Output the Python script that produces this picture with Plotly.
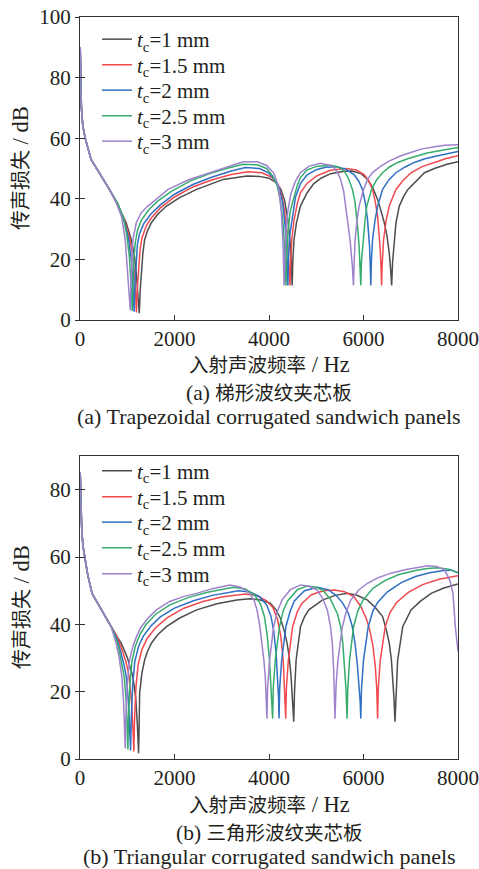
import plotly.graph_objects as go

# ---------------- labels ----------------
legend_names = ["<i>t</i><sub>c</sub>=1 mm", "<i>t</i><sub>c</sub>=1.5 mm", "<i>t</i><sub>c</sub>=2 mm",
                "<i>t</i><sub>c</sub>=2.5 mm", "<i>t</i><sub>c</sub>=3 mm"]
line_colors = ["#4d4d4d", "#f04a4f", "#2f6fc4", "#36ac6c", "#9e82cc"]
x_title_cn, x_title_en = "入射声波频率", " / Hz"
y_title_cn, y_title_en = "传声损失", " / dB"
caption_a_tag, caption_a_cn = "(a) ", "梯形波纹夹芯板"
caption_a_en = "(a) Trapezoidal corrugated sandwich panels"
caption_b_tag, caption_b_cn = "(b) ", "三角形波纹夹芯板"
caption_b_en = "(b) Triangular corrugated sandwich panels"
x_ticks = [0, 2000, 4000, 6000, 8000]
y_ticks_a = [0, 20, 40, 60, 80, 100]
y_ticks_b = [0, 20, 40, 60, 80]

# ---------------- (a) trapezoidal ----------------
trap_t1_x = [5, 15, 30, 60, 110, 234, 411, 623, 810, 978, 1085, 1150, 1191, 1230, 1255, 1275, 1297, 1330, 1368, 1430,
             1510, 1650, 1830, 2100, 2468, 3034, 3532, 3800, 4000, 4150, 4250, 4330, 4400, 4450, 4475, 4490, 4505, 4530,
             4580, 4665, 4807, 4949, 5100, 5304, 5550, 5750, 5950, 6085, 6200, 6298, 6380, 6440, 6500, 6545, 6575, 6596,
             6615, 6651, 6687, 6757, 6850, 6936, 7100, 7290, 7500, 7750, 8000]
trap_t1_y = [90, 80, 70, 64, 60, 53, 48.6, 43.1, 37.6, 32.1, 26.5, 21.5, 15.5, 8, 2.2, 10, 15.5, 22, 26.5, 29.5,
             32.1, 35, 37.6, 40.3, 43.1, 46.4, 47.5, 47.4, 46.8, 45.3, 43.2, 39.5, 33, 25, 18, 11.4, 20, 26.5,
             32, 37.6, 42, 45, 46.8, 48.3, 49, 49.2, 48.3, 46.4, 43.5, 39.8, 35.5, 32.1, 27.5, 22.1, 16.5, 11.4,
             19, 26.5, 32.1, 37.6, 40.8, 43, 45.5, 48.6, 50, 51.3, 52.2]

trap_t15_x = [5, 15, 30, 60, 110, 234, 411, 623, 800, 950, 1050, 1120, 1160, 1180, 1195, 1212, 1235, 1270, 1310, 1400,
              1500, 1700, 2000, 2400, 2800, 3200, 3550, 3850, 4050, 4180, 4260, 4330, 4385, 4420, 4445, 4460, 4485, 4530,
              4600, 4665, 4800, 5000, 5300, 5623, 5850, 6014, 6110, 6192, 6250, 6298, 6330, 6355, 6372, 6383, 6395, 6425,
              6480, 6545, 6687, 6850, 7006, 7250, 7502, 7750, 8000]
trap_t15_y = [90, 80, 70, 64, 60, 53, 48.6, 43.1, 38, 32.5, 27, 21, 14, 8, 2.5, 10, 16, 23, 27, 31,
              33.5, 37, 40.6, 44, 46.3, 48, 48.9, 48.6, 47.2, 45, 42, 36, 28, 20, 11.4, 20, 27, 33,
              38.5, 42, 45, 47.5, 49.4, 50, 49.5, 48, 46, 43.1, 39, 34.3, 29, 23.2, 17, 11.4, 18, 26.5,
              33, 37.6, 43.1, 46.3, 48.6, 50.7, 52, 53.3, 54.2]

trap_t2_x = [5, 15, 30, 60, 110, 234, 411, 623, 800, 940, 1030, 1085, 1115, 1132, 1145, 1160, 1180, 1215, 1260, 1350,
             1500, 1700, 2000, 2400, 2800, 3200, 3500, 3800, 4000, 4130, 4220, 4290, 4340, 4375, 4390, 4400, 4412, 4440,
             4490, 4560, 4665, 4800, 5000, 5200, 5447, 5620, 5800, 5900, 5978, 6040, 6085, 6110, 6128, 6145, 6155, 6168,
             6192, 6240, 6298, 6404, 6540, 6687, 6880, 7077, 7300, 7574, 7800, 8000]
trap_t2_y = [90, 80, 70, 64, 60, 53, 48.6, 43.1, 38.3, 32.5, 26.5, 20, 13, 7, 2.7, 11, 18, 25, 28.5, 31.8,
             35, 38, 41.5, 44.8, 47.2, 49.2, 50.3, 50, 48.5, 46, 43.5, 38.5, 31, 22, 17, 11.4, 20, 28,
             34, 40.5, 45, 47.8, 49.6, 50.4, 50.6, 49.8, 48, 45.8, 43.1, 38.5, 33.2, 29, 24.3, 17, 11.4, 20,
             26.5, 32.5, 37.6, 43.1, 46.3, 48.6, 50.5, 52, 53.2, 54.2, 55, 55.6]

trap_t25_x = [5, 15, 30, 60, 110, 234, 411, 623, 800, 920, 990, 1045, 1075, 1092, 1104, 1118, 1140, 1170, 1215, 1300,
              1450, 1650, 1950, 2350, 2750, 3100, 3450, 3750, 3950, 4080, 4170, 4240, 4295, 4330, 4350, 4360, 4372, 4400,
              4450, 4530, 4600, 4665, 4800, 5000, 5304, 5450, 5588, 5680, 5765, 5820, 5857, 5885, 5907, 5928, 5943, 5955,
              5992, 6030, 6070, 6170, 6280, 6404, 6550, 6723, 6950, 7148, 7350, 7574, 7800, 8000]
trap_t25_y = [90, 80, 70, 64, 60, 53, 48.6, 43.1, 38.5, 33.5, 28, 21, 14, 8, 3, 12, 20, 25.5, 29.5, 33,
              36.3, 39.3, 42.6, 46, 48.3, 50, 51.4, 51.2, 50, 47.5, 44.5, 39.5, 32, 24, 17, 11.4, 20, 29,
              36, 41, 44.5, 47, 49.5, 50.7, 51.1, 50.6, 49.2, 46.8, 43.1, 39, 34.3, 29, 24.3, 17.5, 11.4, 19,
              26.5, 32.5, 37.6, 43.1, 46.3, 48.6, 50.5, 52, 53.3, 54.2, 55.1, 55.8, 56.4, 56.9]

trap_t3_x = [5, 15, 30, 60, 110, 234, 411, 623, 760, 880, 957, 1013, 1045, 1064, 1080, 1100, 1119, 1191, 1300, 1438,
             1650, 1864, 2300, 2751, 3100, 3450, 3750, 3950, 4100, 4200, 4260, 4295, 4320, 4335, 4360, 4400, 4460, 4550,
             4665, 4850, 5090, 5300, 5374, 5450, 5517, 5580, 5623, 5680, 5715, 5765, 5787, 5805, 5822, 5860, 5907, 6000,
             6085, 6200, 6368, 6550, 6794, 7000, 7219, 7500, 7715, 8000]
trap_t3_y = [90, 80, 70, 64, 60, 53, 48.6, 43.1, 39, 34, 26.5, 15.5, 8, 3.3, 13, 21, 26.5, 32.1, 35.5, 37.6,
             40.5, 43.1, 46.3, 48.6, 50.3, 52.2, 52.2, 51, 48.5, 44.2, 36, 26, 11.4, 22, 30, 36, 41.5, 45.5,
             48.6, 50.8, 51.7, 51, 50.3, 48.6, 46.4, 42.5, 37.6, 31, 26.5, 17.7, 11.4, 20, 26.5, 32.5, 37.6, 43,
             46.4, 48.8, 50.8, 52.5, 54.2, 55.3, 56.4, 57.2, 57.7, 57.8]

# ---------------- (b) triangular ----------------
tri_t1_x = [5, 15, 35, 60, 100, 160, 255, 360, 468, 560, 659, 750, 872, 1000, 1119, 1180, 1215, 1240, 1252, 1262,
            1310, 1368, 1430, 1510, 1650, 1830, 2100, 2468, 2900, 3319, 3600, 3800, 4028, 4150, 4240, 4320, 4382, 4430,
            4467, 4500, 4523, 4540, 4574, 4666, 4750, 4843, 5000, 5128, 5400, 5652, 5850, 6085, 6250, 6404, 6480, 6545,
            6590, 6617, 6645, 6666, 6690, 6723, 6830, 7006, 7200, 7432, 7700, 7928, 8000]
tri_t1_y = [85, 77, 69, 63.5, 60, 55, 49.2, 46.6, 44.3, 41.8, 39.3, 37, 34.4, 30.2, 24.5, 18, 10, 1.7, 10, 19.5,
            25.5, 29.4, 32, 34.4, 37, 39.3, 41.8, 44.3, 46.1, 47.2, 47.6, 47.3, 46.3, 44.3, 41.8, 38.2, 34.4, 30,
            24.5, 18, 11.1, 20, 29.4, 39.3, 42.2, 44.3, 46, 47.2, 48.6, 49.2, 48.7, 47.2, 45, 42.3, 38.5, 34.4,
            29.5, 24.5, 18, 11.1, 21, 29.4, 39.3, 44.3, 46.8, 49.2, 50.8, 51.7, 52]

tri_t15_x = [5, 15, 35, 60, 100, 160, 255, 360, 468, 560, 659, 780, 880, 980, 1040, 1095, 1120, 1140, 1155, 1185,
             1230, 1310, 1420, 1600, 1850, 2200, 2600, 3000, 3500, 3750, 3950, 4080, 4180, 4250, 4300, 4330, 4345, 4354,
             4368, 4410, 4500, 4600, 4700, 4900, 5150, 5375, 5600, 5800, 5943, 6050, 6130, 6200, 6250, 6280, 6298, 6313,
             6355, 6460, 6560, 6700, 6950, 7250, 7600, 8000]
tri_t15_y = [85, 77, 69, 63.5, 60, 55, 49.2, 46.6, 44.3, 41.8, 39.3, 36.5, 32.8, 28.5, 24.5, 16, 9, 2.2, 12, 21.5,
             28, 32.5, 35.8, 39, 42, 44.8, 46.8, 48.1, 49, 48.5, 47, 45, 41.5, 36.5, 29.5, 22, 17, 12,
             21, 29.4, 39.3, 43.8, 46.3, 48.8, 50, 50.2, 49.7, 48.2, 45.3, 42, 38.5, 33.5, 27.5, 21, 12, 21,
             29.4, 39.3, 43.5, 46.5, 49.5, 51.8, 53.4, 54.4]

tri_t2_x = [5, 15, 35, 60, 100, 160, 255, 360, 468, 560, 659, 760, 850, 930, 980, 1030, 1055, 1070, 1085, 1115,
            1160, 1240, 1340, 1500, 1700, 2000, 2400, 2800, 3350, 3600, 3800, 3950, 4040, 4100, 4150, 4185, 4203, 4213,
            4226, 4268, 4358, 4450, 4540, 4750, 5021, 5250, 5420, 5560, 5680, 5760, 5820, 5870, 5905, 5930, 5943, 5958,
            6000, 6100, 6200, 6300, 6500, 6800, 7100, 7400, 7700, 7850, 8000]
tri_t2_y = [85, 77, 69, 63.5, 60, 55, 49.2, 46.6, 44.3, 41.8, 39.3, 36.5, 32.5, 28, 24.5, 16, 9, 2.5, 12, 22,
            29, 33.5, 36.5, 39.5, 42.2, 44.8, 47, 48.6, 50, 49.6, 48.2, 45.8, 42.5, 38, 31.5, 24, 18, 12,
            21, 29.4, 39.3, 44, 47, 50, 51, 50.3, 48.6, 46.3, 43.3, 39.5, 34.4, 28, 22, 17, 12, 21,
            29.4, 39.3, 44, 46.5, 49.6, 52.4, 54.2, 55.3, 56, 56.1, 55.3]

tri_t25_x = [5, 15, 35, 60, 100, 160, 255, 360, 468, 560, 659, 740, 810, 880, 935, 980, 1000, 1013, 1027, 1055,
             1100, 1170, 1270, 1400, 1600, 1900, 2300, 2700, 3250, 3500, 3700, 3820, 3900, 3960, 4010, 4045, 4065, 4077,
             4090, 4132, 4222, 4300, 4397, 4600, 4808, 5000, 5150, 5300, 5452, 5520, 5562, 5600, 5628, 5652, 5668, 5705,
             5790, 5880, 5990, 6200, 6450, 6750, 7100, 7350, 7568, 7800, 7950, 8000]
tri_t25_y = [85, 77, 69, 63.5, 60, 55, 49.2, 46.6, 44.3, 41.8, 39.3, 36.5, 33.5, 28.5, 24.5, 17, 10, 2.8, 12, 22,
             29, 33.5, 37, 40, 43, 45.8, 48, 49.5, 51, 50.5, 48.6, 46, 42.5, 37, 29.5, 22, 16, 12,
             21, 29.4, 39.3, 44, 47, 50.3, 51.4, 51, 50, 47.5, 43, 39, 34.4, 28, 21, 12, 21, 29.4,
             39.3, 44, 47.2, 50.7, 53, 54.8, 56, 56.6, 56.8, 56.4, 55.7, 55.3]

tri_t3_x = [5, 15, 35, 60, 100, 160, 255, 360, 468, 560, 659, 720, 766, 830, 885, 920, 945, 957, 970, 1000,
            1049, 1120, 1200, 1297, 1450, 1617, 1900, 2200, 2468, 2800, 3177, 3400, 3500, 3602, 3680, 3745, 3800, 3851,
            3890, 3921, 3945, 3957, 3970, 4013, 4098, 4180, 4275, 4450, 4666, 4850, 5021, 5130, 5234, 5300, 5340, 5370,
            5396, 5420, 5460, 5553, 5630, 5730, 5900, 6085, 6300, 6581, 6900, 7150, 7362, 7550, 7715, 7830, 7894, 7943,
            8000]
tri_t3_y = [85, 77, 69, 63.5, 60, 55, 49.2, 46.6, 44.3, 41.8, 39.3, 36.5, 34.4, 30, 24.5, 18, 10, 3.2, 12, 22,
            29.4, 33.5, 36.5, 39.3, 42, 44.3, 46.8, 48.3, 49.2, 50.6, 51.7, 51, 50.2, 49, 47.3, 44.3, 40, 34.4,
            29.5, 24.5, 18, 12, 21, 29.4, 39.3, 44, 47.2, 50.3, 51.7, 51.3, 50.2, 47.8, 44.3, 39.5, 34.4, 26,
            12, 22, 29.4, 39.3, 43.5, 47.2, 50.2, 52.2, 53.8, 55.2, 56.3, 57, 57.4, 57.2, 56.2, 53, 49.2, 39.3,
            32]

trap_series = [(trap_t1_x, trap_t1_y), (trap_t15_x, trap_t15_y), (trap_t2_x, trap_t2_y),
               (trap_t25_x, trap_t25_y), (trap_t3_x, trap_t3_y)]
tri_series = [(tri_t1_x, tri_t1_y), (tri_t15_x, tri_t15_y), (tri_t2_x, tri_t2_y),
              (tri_t25_x, tri_t25_y), (tri_t3_x, tri_t3_y)]
for xs, ys in trap_series + tri_series:
    assert len(xs) == len(ys), (len(xs), len(ys))

# ---------------- figure ----------------
W, H = 479, 869
SERIF = "Liberation Serif, 'Times New Roman', 'Noto Sans CJK SC', serif"
CJK = "'Noto Sans CJK SC', sans-serif"
INK = "#231f20"
AX = "#333333"


def px_x(p):
    return p / W


def px_y(p):
    return 1 - p / H


fig = go.Figure()
legend_ids = []
for i, (xs, ys) in enumerate(trap_series):
    lid = "legend" if i == 0 else f"legend{i + 1}"
    legend_ids.append(lid)
    fig.add_trace(go.Scatter(x=xs, y=ys, mode="lines", name=legend_names[i],
                             line=dict(color=line_colors[i], width=1.5),
                             xaxis="x", yaxis="y", legend=lid))
for i, (xs, ys) in enumerate(tri_series):
    lid = f"legend{i + 6}"
    legend_ids.append(lid)
    fig.add_trace(go.Scatter(x=xs, y=ys, mode="lines", name=legend_names[i],
                             line=dict(color=line_colors[i], width=1.5),
                             xaxis="x2", yaxis="y2", legend=lid))
# helper traces carrying the inner half of the crossing y ticks
fig.add_trace(go.Scatter(x=[None], y=[None], xaxis="x", yaxis="y3", showlegend=False, hoverinfo="skip"))
fig.add_trace(go.Scatter(x=[None], y=[None], xaxis="x2", yaxis="y4", showlegend=False, hoverinfo="skip"))

xdom = [px_x(80), px_x(458)]
top_dom = [px_y(320), px_y(17)]
bot_dom = [px_y(759), px_y(456)]

axis_common = dict(showline=True, linecolor=AX, linewidth=1.2, mirror=True,
                   showgrid=False, zeroline=False, automargin=False,
                   tickfont=dict(family=SERIF, size=21, color=INK))
xcommon = dict(axis_common, range=[0, 8000], tickvals=x_ticks, ticks="inside", ticklen=5,
               tickcolor=AX, tickwidth=1.2, domain=xdom)
inner_y = dict(ticks="inside", ticklen=5, tickcolor=AX, tickwidth=1.2, showticklabels=False,
               showline=False, showgrid=False, zeroline=False, automargin=False, side="left")

layout = dict(
    width=W, height=H,
    margin=dict(l=0, r=0, t=0, b=0, autoexpand=False),
    paper_bgcolor="white", plot_bgcolor="white",
    showlegend=True,
    xaxis=dict(xcommon, anchor="y"),
    yaxis=dict(axis_common, range=[0, 100], tickvals=y_ticks_a, ticks="outside", ticklen=4,
               tickcolor=AX, tickwidth=1.2, domain=top_dom, anchor="x"),
    yaxis3=dict(inner_y, range=[0, 100], tickvals=y_ticks_a, overlaying="y", anchor="x"),
    xaxis2=dict(xcommon, anchor="y2"),
    yaxis2=dict(axis_common, range=[0, 90], tickvals=y_ticks_b, ticks="outside", ticklen=4,
                tickcolor=AX, tickwidth=1.2, domain=bot_dom, anchor="x2"),
    yaxis4=dict(inner_y, range=[0, 90], tickvals=y_ticks_b, overlaying="y2", anchor="x2"),
)

top_rows = [39.5, 65, 90.5, 116, 141.5]
bot_rows = [471, 497, 522.5, 548, 574]
for k, lid in enumerate(legend_ids):
    row_y = top_rows[k] if k < 5 else bot_rows[k - 5]
    layout[lid] = dict(x=px_x(97), y=px_y(row_y), xanchor="left", yanchor="middle",
                       bgcolor="rgba(0,0,0,0)", borderwidth=0,
                       font=dict(family=SERIF, size=21, color=INK))
fig.update_layout(**layout)

cx = px_x(269)
ann = []


def add_text(text, x, y, size, angle=0):
    ann.append(dict(text=text, x=x, y=y, xref="paper", yref="paper", xanchor="center",
                    yanchor="middle", showarrow=False, textangle=angle,
                    font=dict(family=SERIF, size=size, color=INK)))


def mixed(cn, en, cn_size, en_size, cn_first=True):
    a = f'<span style="font-family:{CJK};font-size:{cn_size}px">{cn}</span>'
    b = f'<span style="font-size:{en_size}px">{en}</span>'
    return a + b if cn_first else b + a


x_title = mixed(x_title_cn, x_title_en, 19.5, 22.5)
y_title = mixed(y_title_cn, y_title_en, 20, 22.5)

add_text(x_title, cx, px_y(363), 22)
add_text(mixed(caption_a_cn, caption_a_tag, 19.5, 21.5, cn_first=False), cx, px_y(391.5), 21.5)
add_text(caption_a_en, cx, px_y(416), 22)
add_text(y_title, px_x(20), px_y(168), 22, -90)

add_text(x_title, cx, px_y(803), 22)
add_text(mixed(caption_b_cn, caption_b_tag, 19.5, 21.5, cn_first=False), cx, px_y(831.5), 21.5)
add_text(caption_b_en, cx, px_y(856), 22)
add_text(y_title, px_x(20), px_y(607), 22, -90)
fig.update_layout(annotations=ann)

fig.write_html("out.html")
